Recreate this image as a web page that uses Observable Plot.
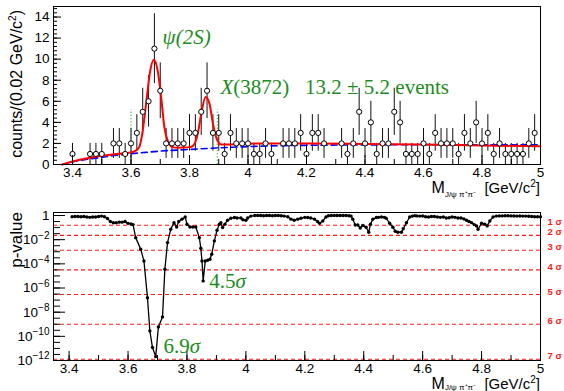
<!DOCTYPE html>
<html><head><meta charset="utf-8">
<script src="https://cdn.jsdelivr.net/npm/d3@7"></script>
<script src="https://cdn.jsdelivr.net/npm/@observablehq/plot@0.6"></script>
<style>
body{margin:0;background:#fff}
#c svg{display:block;overflow:visible}
</style>
</head><body><div id="c"></div>
<script>
// ---------- top panel: mass spectrum ----------
const binMass = [3.40,3.46,3.48,3.50,3.54,3.56,3.58,3.60,3.62,3.64,3.66,3.68,3.70,3.72,3.74,3.76,3.78,3.80,3.82,3.84,3.86,3.88,3.90,3.92,3.94,3.96,3.98,4.00,4.02,4.04,4.06,4.08,4.12,4.14,4.16,4.18,4.20,4.22,4.24,4.26,4.32,4.34,4.36,4.38,4.40,4.42,4.44,4.46,4.48,4.50,4.52,4.54,4.56,4.58,4.60,4.62,4.64,4.66,4.68,4.70,4.72,4.74,4.76,4.78,4.80,4.82,4.84,4.86,4.88,4.90,4.92,4.94,4.96,4.98];
const binCounts = [1,1,1,1,2,2,1,2,3,5,6,11,7,2,2,2,2,3,3,5,7,3,3,1,3,2,2,2,1,1,2,1,2,2,2,3,1,3,3,2,2,1,2,5,2,4,1,2,2,5,4,1,1,1,2,1,3,2,2,2,1,3,2,4,2,3,1,2,1,1,1,1,2,3];
const fitMass = [3.365,3.40,3.45,3.50,3.55,3.60,3.615,3.628,3.64,3.653,3.665,3.678,3.691,3.703,3.714,3.725,3.743,3.76,3.78,3.80,3.811,3.828,3.84,3.855,3.868,3.88,3.891,3.908,3.93,3.97,4.05,4.2,4.4,4.6,4.8,5.0];
const fitCounts = [0,0.28,0.6,0.82,1.0,1.15,1.3,1.65,3.2,6.1,8.8,9.95,8.95,6.4,3.55,2.3,1.65,1.6,1.62,1.65,1.75,2.9,4.8,6.4,5.8,3.9,2.6,1.9,1.9,1.95,2.0,2.0,1.95,1.9,1.8,1.73];
const bkgMass = [3.365,3.40,3.45,3.50,3.55,3.60,3.65,3.70,3.80,3.90,4.00,4.20,4.50,4.80,5.00];
const bkgCounts = [0,0.25,0.5,0.68,0.88,1.02,1.15,1.27,1.43,1.58,1.7,1.82,1.87,1.88,1.87];
const windowEdges = [3.60, 3.895];
const countTicks = [0,2,4,6,8,10,12,14];
const massTicks = [3.4,3.6,3.8,4.0,4.2,4.4,4.6,4.8,5.0];
const topLabels = ["ψ(2S)", "X(3872)  13.2 ± 5.2 events"];
const topLabelMass = [3.708, 3.906];
const topLabelCounts = [11.4, 6.74];

// ---------- bottom panel: local p-value scan ----------
const scanMass = [3.41,3.42,3.43,3.44,3.45,3.46,3.47,3.48,3.49,3.50,3.51,3.52,3.53,3.54,3.55,3.56,3.57,3.58,3.59,3.60,3.61,3.617,3.626,3.643,3.654,3.666,3.674,3.683,3.694,3.703,3.717,3.725,3.734,3.745,3.756,3.765,3.772,3.783,3.794,3.800,3.810,3.820,3.830,3.842,3.847,3.851,3.855,3.862,3.870,3.878,3.884,3.893,3.902,3.910,3.915,3.921,3.929,3.938,3.949,3.961,3.970,3.983,3.990,4.000,4.006,4.017,4.03,4.04,4.05,4.06,4.07,4.08,4.09,4.10,4.11,4.12,4.13,4.142,4.153,4.164,4.176,4.187,4.20,4.21,4.22,4.233,4.243,4.25,4.261,4.272,4.28,4.29,4.30,4.31,4.32,4.33,4.34,4.35,4.357,4.363,4.371,4.38,4.388,4.397,4.408,4.417,4.423,4.431,4.443,4.45,4.46,4.47,4.476,4.488,4.499,4.507,4.516,4.528,4.534,4.545,4.556,4.565,4.573,4.58,4.59,4.60,4.61,4.62,4.63,4.64,4.65,4.66,4.67,4.68,4.69,4.70,4.71,4.72,4.73,4.74,4.749,4.757,4.766,4.775,4.783,4.788,4.80,4.811,4.819,4.828,4.839,4.85,4.86,4.87,4.88,4.89,4.90,4.91,4.92,4.93,4.94,4.95,4.96,4.97,4.98,4.99,5.00];
const scanLog10P = [-0.10,-0.08,-0.08,-0.10,-0.08,-0.12,-0.15,-0.12,-0.12,-0.08,-0.05,-0.10,-0.25,-0.50,-0.60,-0.60,-0.55,-0.55,-0.50,-0.65,-0.70,-0.75,-1.83,-2.79,-3.76,-6.80,-9.55,-10.93,-11.68,-9.22,-8.39,-4.45,-2.24,-1.14,-0.59,-0.95,-0.50,-0.30,-0.12,-0.72,-0.95,-0.95,-0.95,-1.83,-2.71,-3.76,-5.41,-3.76,-3.70,-3.62,-3.20,-2.10,-1.22,-0.72,-0.59,-1.00,-0.72,-0.39,-0.22,-0.17,-0.20,-0.20,-0.35,-0.40,-0.20,-0.05,0,0,0,-0.02,0,0,-0.02,0,0,-0.02,-0.05,-0.10,-0.30,-0.39,-0.30,-0.22,-0.15,-0.17,-0.20,-0.30,-0.50,-0.64,-0.45,-0.12,-0.02,0,0,0,0,0,0,-0.02,-0.05,-0.30,-0.78,-0.78,-1.03,-0.83,-0.97,-1.38,-0.72,-0.30,-0.17,-0.15,-0.12,-0.15,-0.22,-0.64,-0.97,-1.30,-1.38,-1.38,-1.10,-0.60,-0.12,-0.05,-0.01,-0.03,-0.05,-0.04,-0.10,-0.12,-0.08,-0.08,-0.12,-0.15,-0.12,-0.20,-0.18,-0.12,-0.15,-0.20,-0.20,-0.28,-0.39,-0.50,-0.59,-0.75,-0.86,-1.14,-0.64,-0.72,-0.86,-0.45,-0.12,-0.05,-0.03,-0.03,-0.02,-0.02,-0.03,-0.04,-0.05,-0.04,-0.05,-0.05,-0.06,-0.08,-0.10,-0.10,-0.10];
const sigmaNames = ["1 σ","2 σ","3 σ","4 σ","5 σ","6 σ","7 σ"];
const sigmaP = [0.1587,0.02275,1.35e-3,3.17e-5,2.87e-7,9.87e-10,1.28e-12];
const decadeTicks = [0,-2,-4,-6,-8,-10,-12];
const botLabels = ["6.9σ","4.5σ"];
const botLabelMass = [3.720, 3.876];
const botLabelLog10P = [-11.34, -6.04];

// ---------- build ----------
const W = 564, mL = 53, mR = 24;
const innerW = W - mL - mR;
const topH = 200, topMT = 6, topMB = 36, topInnerH = topH - topMT - topMB;
const botH = 191, botMT = 12, botMB = 31, botInnerH = botH - botMT - botMB;
const sans = "'Liberation Sans', Arial, Helvetica, sans-serif";
const serif = "'Liberation Serif', 'Times New Roman', serif";
const green = "#1e8c1e";
const fmtMass = d => String(+d.toFixed(1));

const bins = binMass.map((m, i) => ({m, n: binCounts[i], e: Math.sqrt(binCounts[i])}));
const fit = fitMass.map((m, i) => ({m, n: fitCounts[i]}));
const bkg = bkgMass.map((m, i) => ({m, n: bkgCounts[i]}));
const topAnn = topLabels.map((t, i) => ({t, m: topLabelMass[i], n: topLabelCounts[i]}));
const minorMass = d3.range(3.4, 5.001, 0.1);
const minorCounts = d3.range(0, 15.01, 0.4);

const topPlot = Plot.plot({
  width: W, height: topH, marginTop: topMT, marginBottom: topMB, marginLeft: mL, marginRight: mR,
  style: {fontFamily: sans, fontSize: "13.5px", background: "white", color: "black"},
  x: {domain: [3.335, 5], ticks: massTicks, tickSize: 0, tickPadding: 3, tickFormat: fmtMass, label: null},
  y: {domain: [0, 15], ticks: countTicks, tickSize: 0, tickPadding: 4, label: null},
  marks: [
    Plot.ruleX(windowEdges, {x: d => d, y1: 0, y2: 5.2, stroke: "#2aa02a", strokeDasharray: "1.2,2"}),
    Plot.ruleX(bins, {x: "m", y1: d => d.n - d.e, y2: d => d.n + d.e, stroke: "#111", strokeWidth: 1}),
    Plot.line(bkg, {x: "m", y: "n", stroke: "#0000ff", strokeWidth: 1.6, strokeDasharray: "6,4", curve: "monotone-x"}),
    Plot.line(fit, {x: "m", y: "n", stroke: "#ff0000", strokeWidth: 2, curve: "monotone-x"}),
    Plot.dot(bins, {x: "m", y: "n", r: 2.6, fill: "white", stroke: "black", strokeWidth: 1}),
    Plot.tickX(minorMass, {x: d => d, insetTop: topInnerH - 5, stroke: "black"}),
    Plot.tickX(massTicks, {x: d => d, insetTop: topInnerH - 9, stroke: "black"}),
    Plot.tickY(minorCounts, {y: d => d, insetRight: innerW - 4, stroke: "black"}),
    Plot.tickY(countTicks, {y: d => d, insetRight: innerW - 8, stroke: "black"}),
    Plot.text(topAnn, {x: "m", y: "n", text: "t", textAnchor: "start", lineAnchor: "bottom", fill: green, fontSize: 21, fontFamily: serif}),
    Plot.frame({stroke: "black"})
  ]
});

const scan = scanMass.map((m, i) => ({m, p: 10 ** scanLog10P[i]}));
const sig = sigmaP.map((p, i) => ({p, name: sigmaNames[i]}));
const botAnn = botLabels.map((t, i) => ({t, m: botLabelMass[i], p: 10 ** botLabelLog10P[i]}));
const halfDecades = d3.range(0, -12.01, -0.5).map(e => 10 ** e);

const botPlot = Plot.plot({
  width: W, height: botH, marginTop: botMT, marginBottom: botMB, marginLeft: mL, marginRight: mR,
  style: {fontFamily: sans, fontSize: "13.5px", background: "white", color: "black"},
  x: {domain: [3.347, 5], ticks: massTicks, tickSize: 0, tickPadding: 3, tickFormat: fmtMass, label: null},
  y: {type: "log", domain: [1e-12, 10 ** 0.25], ticks: decadeTicks.map(e => 10 ** e), tickSize: 0, tickPadding: 4,
      tickFormat: d => "e" + Math.round(Math.log10(d)), label: null},
  marks: [
    Plot.ruleY(sig, {y: "p", stroke: "#ff1a1a", strokeDasharray: "4,3", strokeWidth: 1.1}),
    Plot.text(sig, {y: "p", text: "name", frameAnchor: "right", textAnchor: "start", dx: 7, dy: -3, fill: "#ff1a1a", fontWeight: "bold", fontSize: 9.5}),
    Plot.line(scan, {x: "m", y: "p", stroke: "black", strokeWidth: 1.3}),
    Plot.dot(scan, {x: "m", y: "p", r: 1.7, fill: "black", stroke: "none"}),
    Plot.tickX(minorMass, {x: d => d, insetTop: botInnerH - 5, stroke: "black"}),
    Plot.tickX(massTicks, {x: d => d, insetTop: botInnerH - 9, stroke: "black"}),
    Plot.tickY(halfDecades, {y: d => d, insetRight: innerW - 7, stroke: "black"}),
    Plot.tickY(decadeTicks.map(e => 10 ** e), {y: d => d, insetRight: innerW - 12, stroke: "black"}),
    Plot.text(botAnn, {x: "m", y: "p", text: "t", textAnchor: "start", lineAnchor: "bottom", fill: green, fontSize: 21, fontFamily: serif}),
    Plot.frame({stroke: "black"})
  ]
});

const c = document.getElementById("c");
c.appendChild(topPlot);
c.appendChild(botPlot);

// superscript log labels
d3.select(botPlot).selectAll("text").each(function () {
  const t = this.textContent;
  if (/^e-?\d+$/.test(t)) {
    const e = +t.slice(1);
    const s = d3.select(this);
    s.text(null);
    if (e === 0) s.text("1");
    else {
      s.append("tspan").text("10");
      s.append("tspan").attr("dy", "-0.55em").attr("font-size", "10px").text("−" + (-e));
    }
  }
});

// rich annotation text (italic parts)
const rich = {
  "ψ(2S)": [["ψ(2S)", "italic"]],
  "X(3872)  13.2 ± 5.2 events": [["X", "italic"], ["(3872)   13.2 ± 5.2 events", "normal"]],
  "6.9σ": [["6.9", "normal"], ["σ", "italic"]],
  "4.5σ": [["4.5", "normal"], ["σ", "italic"]]
};
[topPlot, botPlot].forEach(svg => {
  d3.select(svg).selectAll("text").each(function () {
    const parts = rich[this.textContent];
    if (!parts) return;
    const s = d3.select(this);
    s.text(null).style("white-space", "pre");
    parts.forEach(([str, st]) => s.append("tspan").attr("font-style", st).text(str));
  });
});

// axis titles
function xTitle(svg, y, sub) {
  const t = d3.select(svg).append("text").attr("x", mL + innerW).attr("y", y)
    .attr("text-anchor", "end").attr("font-family", sans).attr("font-size", 15).attr("fill", "black")
    .style("white-space", "pre");
  t.append("tspan").attr("font-size", 16).text("M");
  t.append("tspan").attr("dy", sub).attr("font-size", 8).text("J/ψ π⁺π⁻");
  t.append("tspan").attr("dy", -sub).text("  [GeV/c");
  t.append("tspan").attr("dy", -6).attr("font-size", 10).text("2");
  t.append("tspan").attr("dy", 6).text("]");
}
xTitle(topPlot, 193, 4);
xTitle(botPlot, 188.5, 1.5);

const yt = d3.select(topPlot).append("text").attr("transform", "translate(22,10) rotate(-90)")
  .attr("text-anchor", "end").attr("font-family", sans).attr("font-size", 16).attr("fill", "black");
yt.append("tspan").text("counts/(0.02 GeV/c");
yt.append("tspan").attr("dy", -6).attr("font-size", 10).text("2");
yt.append("tspan").attr("dy", 6).text(")");

d3.select(botPlot).append("text").attr("transform", "translate(22,12) rotate(-90)")
  .attr("text-anchor", "end").attr("font-family", sans).attr("font-size", 17).attr("fill", "black")
  .text("p-value");
</script>
</body></html>
